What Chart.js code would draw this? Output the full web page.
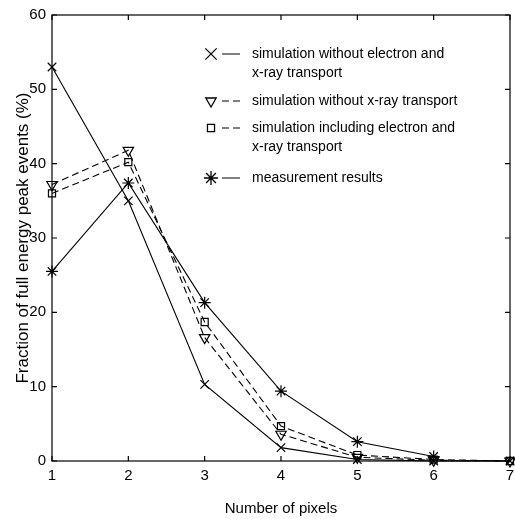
<!DOCTYPE html>
<html><head><meta charset="utf-8">
<script src="https://cdn.jsdelivr.net/npm/chart.js@4.4.1/dist/chart.umd.min.js"></script>
<style>html,body{margin:0;padding:0;background:#fff}#wrap{width:515px;height:519px}</style>
</head><body><div id="wrap"><canvas id="c" width="515" height="519"></canvas></div>
<script>
const pixels = [1, 2, 3, 4, 5, 6, 7];
const simNoElectronNoXray = [53.0, 35.0, 10.3, 1.8, 0.2, 0.0, 0.0];
const simNoXray = [37.2, 41.8, 16.6, 3.6, 0.5, 0.1, 0.0];
const simIncluding = [36.0, 40.2, 18.7, 4.7, 0.8, 0.2, 0.0];
const measurement = [25.5, 37.4, 21.3, 9.4, 2.6, 0.6];
const seriesLabels = [
  ["simulation without electron and", "x-ray transport"],
  ["simulation without x-ray transport"],
  ["simulation including electron and", "x-ray transport"],
  ["measurement results"]
];
const yTicks = [0, 10, 20, 30, 40, 50, 60];
const xTitle = "Number of pixels";
const yTitle = "Fraction of full energy peak events (%)";

function pts(vals){ return vals.map((v,i)=>({x: pixels[i], y: v})); }
const FONT = "'Liberation Sans', Arial, sans-serif";
const noPad = () => ({left: 0, right: 0, top: 0, bottom: 0});

const boxPlugin = {
  id: 'box',
  afterDatasetsDraw(chart){
    const {ctx, chartArea:a, scales:{x, y}} = chart;
    ctx.save();
    ctx.strokeStyle = '#000'; ctx.lineWidth = 1.2;
    ctx.strokeRect(a.left, a.top, a.right - a.left, a.bottom - a.top);
    ctx.beginPath();
    const L = 5;
    x.ticks.forEach(t => { const px = x.getPixelForValue(t.value);
      ctx.moveTo(px, a.bottom); ctx.lineTo(px, a.bottom - L);
      ctx.moveTo(px, a.top); ctx.lineTo(px, a.top + L); });
    y.ticks.forEach(t => { const py = y.getPixelForValue(t.value);
      ctx.moveTo(a.left, py); ctx.lineTo(a.left + L, py);
      ctx.moveTo(a.right, py); ctx.lineTo(a.right - L, py); });
    ctx.stroke();
    const mx = 211, lx0 = 222, lx1 = 240, tx = 252;
    const rows = [54, 101, 128, 178];
    const legendRadius = [8, 6, 5, 7];
    ctx.font = "14px " + FONT; ctx.fillStyle = '#000'; ctx.textBaseline = 'middle';
    chart.data.datasets.forEach((ds, i) => {
      const yy = rows[i];
      ctx.save();
      ctx.lineWidth = 1; ctx.strokeStyle = '#000';
      ctx.setLineDash(ds.borderDash || []);
      ctx.beginPath(); ctx.moveTo(lx0, yy); ctx.lineTo(lx1, yy); ctx.stroke();
      ctx.setLineDash([]);
      ctx.fillStyle = 'rgba(0,0,0,0)';
      ctx.lineWidth = 1.3;
      Chart.helpers.drawPoint(ctx, {pointStyle: ds.pointStyle, radius: legendRadius[i], rotation: ds.pointRotation || 0, borderWidth: 1.3}, mx, yy);
      ctx.restore();
      seriesLabels[i].forEach((line, k) => ctx.fillText(line, tx, yy + k * 19));
    });
    ctx.restore();
  }
};

const common = {borderColor: '#000', backgroundColor: 'rgba(0,0,0,0)', borderWidth: 1.1,
  pointBorderColor: '#000', pointBackgroundColor: 'rgba(0,0,0,0)', pointBorderWidth: 1.2,
  pointRadius: 5, tension: 0, fill: false, showLine: true, clip: false};

new Chart(document.getElementById('c'), {
  type: 'scatter',
  data: { datasets: [
    Object.assign({}, common, {label: seriesLabels[0].join(' '), data: pts(simNoElectronNoXray), pointStyle: 'crossRot', pointRadius: 6}),
    Object.assign({}, common, {label: seriesLabels[1].join(' '), data: pts(simNoXray), pointStyle: 'triangle', pointRotation: 180, borderDash: [7, 4], pointRadius: 6}),
    Object.assign({}, common, {label: seriesLabels[2].join(' '), data: pts(simIncluding), pointStyle: 'rect', borderDash: [7, 4], pointRadius: 5}),
    Object.assign({}, common, {label: seriesLabels[3].join(' '), data: pts(measurement), pointStyle: 'star', pointRadius: 6})
  ]},
  options: {
    responsive: false, animation: false, devicePixelRatio: 1,
    layout: {autoPadding: false, padding: {top: 15, right: 5, left: 0, bottom: 0}},
    plugins: {legend: {display: false}, tooltip: {enabled: false}},
    scales: {
      x: {type: 'linear', min: 1, max: 7,
        afterBuildTicks(s){ s.ticks = pixels.map(v => ({value: v})); },
        afterFit(s){ s.height = 58; s.paddingLeft = 0; s.paddingRight = 0; s.getPadding = noPad; },
        grid: {display: false, drawTicks: false}, border: {display: false},
        ticks: {color: '#000', font: {family: FONT, size: 15}, padding: 6, maxRotation: 0},
        title: {display: true, text: xTitle, color: '#000', font: {family: FONT, size: 15}, padding: {top: 4, bottom: 1}}
      },
      y: {min: 0, max: 60,
        afterBuildTicks(s){ s.ticks = yTicks.map(v => ({value: v})); },
        afterFit(s){ s.width = 52; s.paddingTop = 0; s.paddingBottom = 0; s.getPadding = noPad; },
        grid: {display: false, drawTicks: false}, border: {display: false},
        ticks: {color: '#000', font: {family: FONT, size: 15}, padding: 6},
        title: {display: true, text: yTitle, color: '#000', font: {family: FONT, size: 17}, padding: {top: 13, bottom: 0}}
      }
    }
  },
  plugins: [boxPlugin]
});
</script></body></html>
